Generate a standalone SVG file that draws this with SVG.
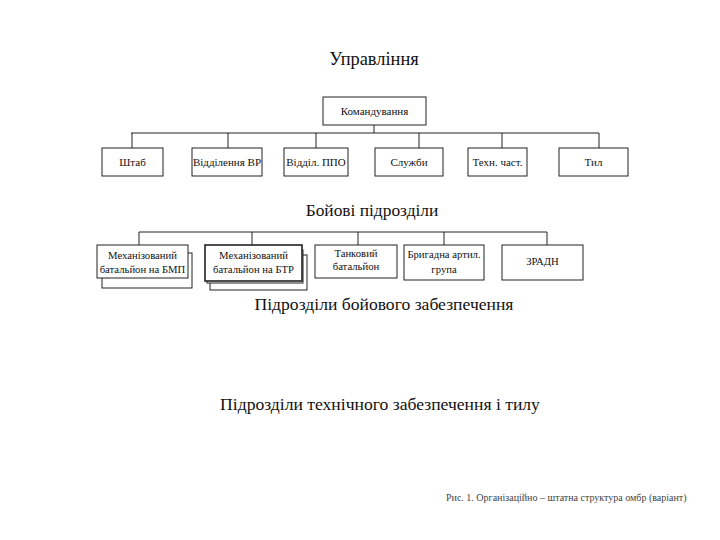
<svg xmlns="http://www.w3.org/2000/svg" width="720" height="540" viewBox="0 0 720 540">
<style>
text{font-family:"Liberation Serif","Times New Roman",serif;fill:#111}
.h{font-size:17.6px;text-anchor:middle}
.t{font-size:11px;text-anchor:middle}
.t2{font-size:10.7px;text-anchor:middle}
.cap{font-size:10px;fill:#444}
.box{fill:#fff;stroke:#222;stroke-width:1}
.bold{stroke-width:1.6}
.ln{fill:none;stroke:#222;stroke-width:1}
</style>
<rect width="720" height="540" fill="#fff"/>
<text class="h" x="374" y="65" style="font-size:18.4px">Управління</text>
<text class="h" x="372" y="216" style="font-size:17.4px">Бойові підрозділи</text>
<text class="h" x="384" y="310">Підрозділи бойового забезпечення</text>
<text class="h" x="380" y="410">Підрозділи технічного забезпечення і тилу</text>
<text class="cap" x="446" y="501">Рис. 1. Організаційно – штатна структура омбр (варіант)</text>
<g id="connectors">
<path class="ln" d="M374 125V133M131 133H599M132 133V148M228 133V148M316 133V148M419 133V148M502 133V148M599 133V148"/>
<path class="ln" d="M139 232H547M139 232V245M252 232V245M358 232V245M444 232V245M547 232V245"/>
</g>
<g id="n-komand"><rect class="box" x="323" y="97" width="103" height="28"/><text class="t" x="374.5" y="115">Командування</text></g>
<g id="n-shtab"><rect class="box" x="102" y="148" width="61" height="28"/><text class="t" x="132.5" y="166">Штаб</text></g>
<g id="n-vr"><rect class="box" x="192" y="148" width="70" height="28"/><text class="t" x="227" y="166">Відділення ВР</text></g>
<g id="n-ppo"><rect class="box" x="284" y="148" width="64" height="28"/><text class="t" x="316" y="166">Відділ. ППО</text></g>
<g id="n-sluzhby"><rect class="box" x="375" y="148" width="68" height="28"/><text class="t" x="409" y="166">Служби</text></g>
<g id="n-tekhn"><rect class="box" x="468" y="148" width="59" height="28"/><text class="t" x="497.5" y="166">Техн. част.</text></g>
<g id="n-tyl"><rect class="box" x="559" y="148" width="69" height="28"/><text class="t" x="593.5" y="166">Тил</text></g>
<g id="n-bmp"><rect class="box" x="102" y="253" width="90" height="35"/><rect class="box" x="97" y="245" width="91" height="33"/><text class="t2" x="142.5" y="259">Механізований</text><text class="t2" x="142.5" y="273">батальйон на БМП</text></g>
<g id="n-btr"><rect class="box" x="210" y="255" width="97" height="35"/><rect class="box" x="207" y="250" width="96" height="33"/><rect class="box bold" x="205" y="245" width="97" height="36"/><text class="t2" x="253.5" y="259">Механізований</text><text class="t2" x="253.5" y="273">батальйон на БТР</text></g>
<g id="n-tank"><rect class="box" x="315" y="245" width="82" height="33"/><text class="t2" x="356" y="257">Танковий</text><text class="t2" x="356" y="270">батальйон</text></g>
<g id="n-art"><rect class="box" x="404" y="245" width="80" height="35"/><text class="t2" x="444" y="258">Бригадна артил.</text><text class="t2" x="444" y="273">група</text></g>
<g id="n-zradn"><rect class="box" x="502" y="245" width="81" height="35"/><text class="t2" x="542.5" y="265">ЗРАДН</text></g>
</svg>
